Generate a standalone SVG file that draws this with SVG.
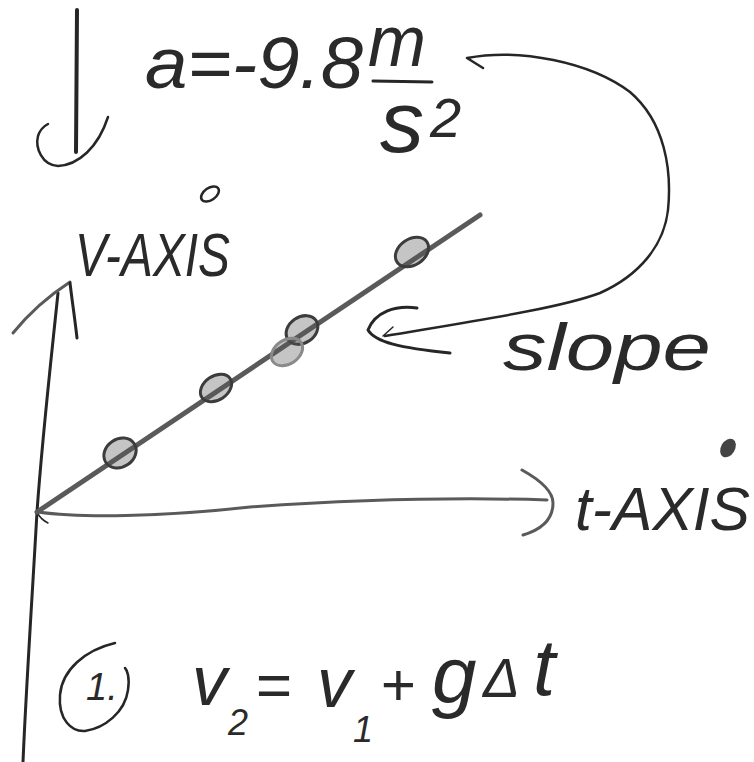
<svg xmlns="http://www.w3.org/2000/svg" width="754" height="762" viewBox="0 0 754 762">
<style>
.pen{fill:none;stroke:#262626;stroke-linecap:round;stroke-linejoin:round}
.pencil{fill:none;stroke:#5a5a5a;stroke-linecap:round;stroke-linejoin:round}
.hand{font-family:"Liberation Sans","DejaVu Sans",sans-serif;font-style:italic;fill:#2a2a2a}
.dot{fill:rgba(90,90,90,0.35);stroke:#3c3c3c;stroke-width:3}
</style>
<rect width="754" height="762" fill="#ffffff"/>

<g id="gravity-arrow">
  <path class="pen" stroke-width="4" d="M77,10 L76,152"/>
  <path class="pen" stroke-width="2.5" d="M108,117 C98,148 78,165 58,166 C42,165 35,148 38,136 C40,130 44,126 48,124"/>
</g>

<g id="acceleration-label">
  <text class="hand" x="145" y="88" font-size="72" textLength="218" lengthAdjust="spacingAndGlyphs">a=-9.8</text>
  <text class="hand" x="368" y="66" font-size="72" textLength="58" lengthAdjust="spacingAndGlyphs">m</text>
  <path class="pen" stroke-width="3" d="M373,81 L432,82"/>
  <text class="hand" x="380" y="152" font-size="88">s<tspan x="430" y="137" font-size="56">2</tspan></text>
</g>

<g id="v-axis-label">
  <text class="hand" x="75" y="276" font-size="62" textLength="155" lengthAdjust="spacingAndGlyphs">V-AXIS</text>
  <ellipse class="pen" stroke-width="2.5" cx="210" cy="194" rx="10" ry="6" transform="rotate(-35 210 194)"/>
</g>

<g id="connectors">
  <!-- curved arrow from acceleration to slope -->
  <path class="pen" stroke-width="2.5" d="M483,68 L467,58 C520,48 590,62 630,92 C665,122 672,170 668,210 C664,245 640,275 600,293 C560,308 480,320 385,336"/>
  <path class="pen" stroke-width="3" d="M417,308 C395,305 375,312 368,330 C375,342 400,348 450,353"/>
  <path class="pen" stroke-width="1.5" d="M393,327 L383,336"/>
  <!-- v axis -->
  <path class="pen" stroke-width="3" d="M58,293 C50,370 42,440 37,512 C32,600 26,690 23,762"/>
  <path class="pencil" stroke-width="3" d="M13,333 C30,312 50,295 70,282"/>
  <path class="pen" stroke-width="3" d="M70,283 C72,300 75,320 77,338"/>
  <!-- t axis -->
  <path class="pencil" stroke-width="3" d="M38,512 C80,518 160,517 250,507 C350,500 450,497 547,500"/>
  <path class="pencil" stroke-width="3" d="M522,470 C540,480 553,492 553,503 C553,520 540,530 523,535"/>
  <path class="pen" stroke-width="1.5" d="M38,514 C41,519 44,521 48,523"/>
  <!-- slope line -->
  <path class="pencil" stroke-width="5" d="M37,512 L480,215"/>
</g>

<g id="data-points">
  <ellipse class="dot" cx="412" cy="252" rx="18" ry="13" transform="rotate(-34 412 252)"/>
  <ellipse class="dot" cx="302" cy="330" rx="17" ry="13" transform="rotate(-34 302 330)"/>
  <ellipse class="dot" cx="287" cy="352" rx="17" ry="12" transform="rotate(-34 287 352)" style="stroke:#8a8a8a"/>
  <ellipse class="dot" cx="216" cy="388" rx="17" ry="12" transform="rotate(-34 216 388)"/>
  <ellipse class="dot" cx="120" cy="453" rx="17" ry="14" transform="rotate(-34 120 453)"/>
</g>

<g id="slope-label">
  <text class="hand" x="503" y="370" font-size="66" textLength="208" lengthAdjust="spacingAndGlyphs">slope</text>
</g>

<g id="t-axis-label">
  <text class="hand" x="575" y="530" font-size="62" textLength="175" lengthAdjust="spacingAndGlyphs">t-AXIS</text>
  <ellipse cx="728" cy="448" rx="7" ry="10" fill="#444" transform="rotate(30 728 448)"/>
</g>

<g id="equation">
  <path class="pen" stroke-width="2.5" d="M115,643 C85,650 62,670 60,695 C58,720 72,732 85,731 C105,728 125,712 128,690 C130,677 127,670 125,668"/>
  <text class="hand" x="86" y="700" font-size="38">1.</text>
  <text class="hand" font-size="70"><tspan x="192" y="705">v</tspan><tspan x="228" y="735" font-size="36">2</tspan><tspan x="255" y="706" font-size="62">=</tspan><tspan x="317" y="707">v</tspan><tspan x="353" y="742" font-size="36">1</tspan><tspan x="380" y="705" font-size="60">+</tspan><tspan x="432" y="702" font-size="80">g</tspan><tspan x="483" y="697" font-size="55">Δ</tspan><tspan x="533" y="695" font-size="80">t</tspan></text>
</g>
</svg>
